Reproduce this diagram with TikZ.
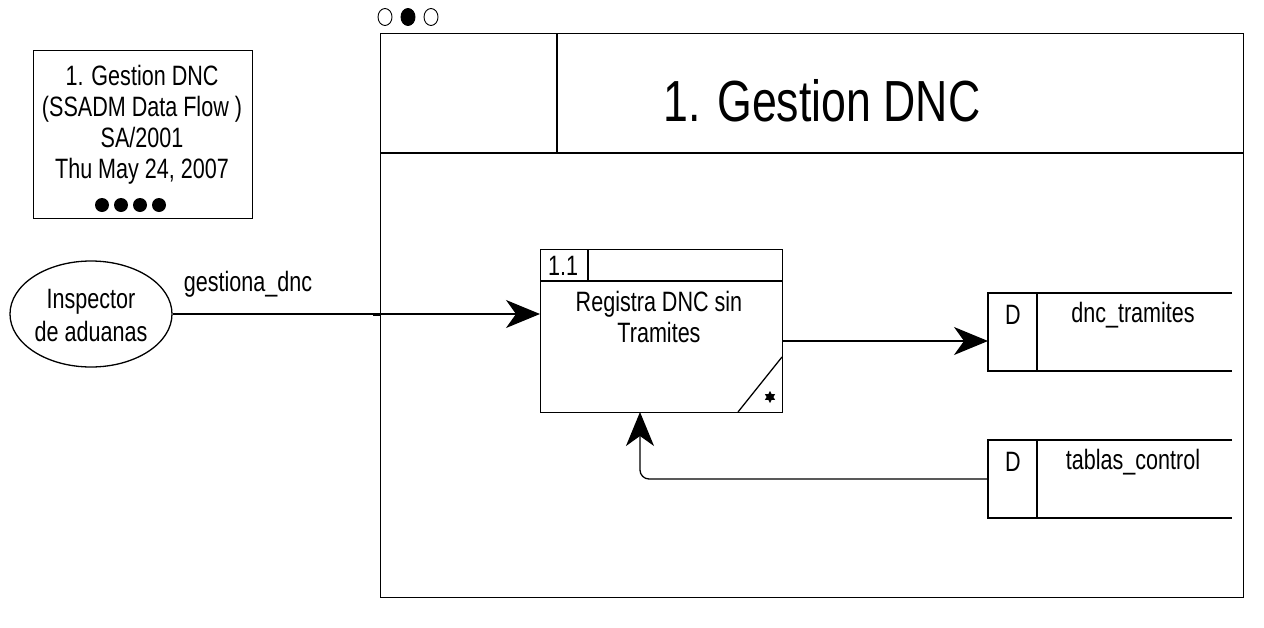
\documentclass[tikz,border=0pt]{standalone}
\usepackage{fontspec}
\setmainfont{Liberation Sans}[FakeStretch=0.77]
\usetikzlibrary{arrows.meta,shapes.geometric}
\begin{document}
\begin{tikzpicture}[x=1pt,y=-1pt,line width=1.3pt,
  txt/.style={font=\fontsize{28}{31}\selectfont,align=center,inner sep=0pt},
  boxed/.style={draw,inner sep=0pt,anchor=north west},
  flow/.style={-{Stealth[length=34pt,width=28pt,inset=10pt]}},
  dot/.style={fill=black,circle,minimum size=14pt,inner sep=0pt},
  odot/.style={draw,ellipse,minimum width=14pt,minimum height=17pt,inner sep=0pt,line width=0.9pt},
]
\useasboundingbox (0,0) rectangle (1264,627);

% title box
\node (info) [boxed,minimum width=219pt,minimum height=168pt] at (33,50) {};
\node (infotxt) [txt,font=\fontsize{28}{31}\selectfont] at (142,125)
  {1. Gestion DNC\\(SSADM Data Flow )\\SA/2001\\Thu May 24, 2007};
\node (d1) [dot] at (102,205) {};
\node (d2) [dot] at (121,205) {};
\node (d3) [dot] at (140,205) {};
\node (d4) [dot] at (159,205) {};

% top-left marks
\node (c1) [odot] at (385,17) {};
\node (c2) [odot,fill=black] at (408,17) {};
\node (c3) [odot] at (431,17) {};

% frame
\node (frame) [boxed,minimum width=863pt,minimum height=564pt] at (380,33) {};
\draw (380,153) -- (1243,153);
\draw (557,33) -- (557,153);
\node (title) [font=\fontsize{58}{60}\selectfont,inner sep=0pt] at (822,101) {1. Gestion DNC};

% external entity
\node (actor) [draw,ellipse,minimum width=162pt,minimum height=106pt,inner sep=0pt] at (91,314) {};
\node (actortxt) [txt,font=\fontsize{28}{33}\selectfont] at (91,315) {Inspector\\de aduanas};
\node (flowlbl) [txt] at (248,284) {gestiona\_dnc};

% process
\node (proc) [boxed,minimum width=242pt,minimum height=163pt] at (540,249) {};
\draw (540,281) -- (782,281);
\draw (588,249) -- (588,281);
\node (pid) [txt] at (563,266) {1.1};
\node (ptxt) [txt,font=\fontsize{28}{31}\selectfont] at (659,317) {Registra DNC sin\\Tramites};
\draw (782,357) -- (738,412);
\node (pstar) [star,star points=6,star point ratio=1.8,fill=black,minimum size=12pt,inner sep=0pt] at (770,397) {};

% data stores
\coordinate (s1) at (988,341);
\draw (1232,293) -- (988,293) -- (988,371) -- (1232,371);
\draw (1037,293) -- (1037,371);
\node (s1d) [txt] at (1013,315) {D};
\node (s1n) [txt] at (1133,315) {dnc\_tramites};

\coordinate (s2) at (988,479);
\draw (1232,440) -- (988,440) -- (988,518) -- (1232,518);
\draw (1037,440) -- (1037,518);
\node (s2d) [txt] at (1013,462) {D};
\node (s2n) [txt] at (1133,462) {tablas\_control};

% flows
\draw[flow] (actor.east) -- (proc.west |- actor.east);
\coordinate (junc) at (frame.west |- actor.east);
\draw[line width=3pt] ([xshift=-7pt]junc) -- (junc);
\draw[flow] (s1 -| proc.east) -- (s1);
\coordinate (pin) at (640,412);
\draw[flow,rounded corners=9pt] (s2) -| (pin);
\end{tikzpicture}
\end{document}
